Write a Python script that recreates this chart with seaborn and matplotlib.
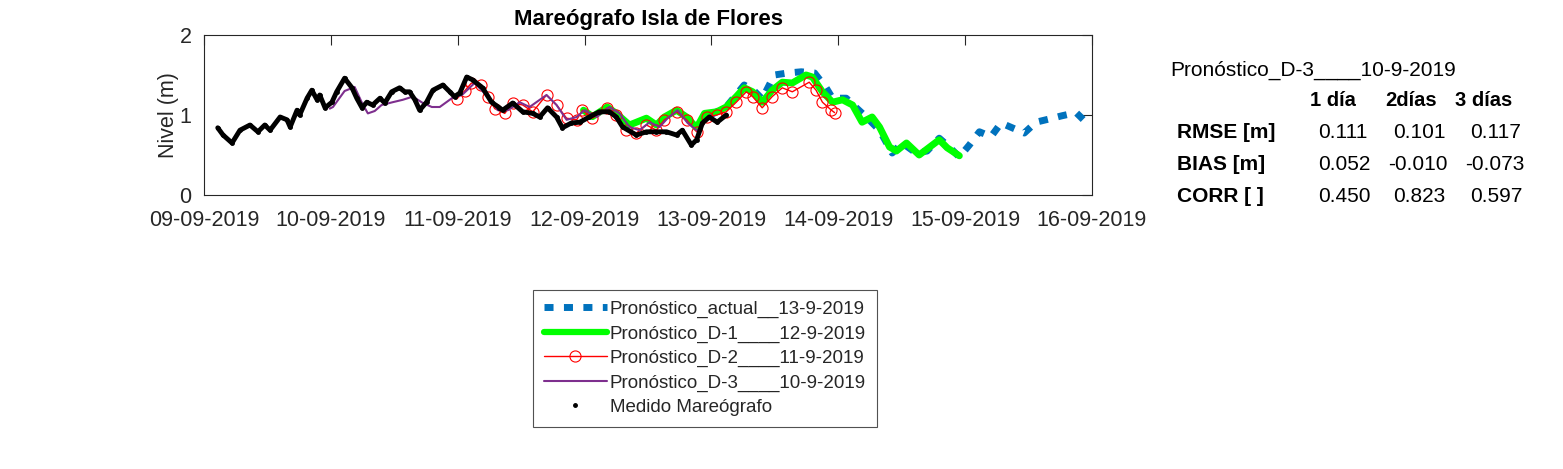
import numpy as np
import pandas as pd
import matplotlib
matplotlib.use("Agg")
import matplotlib.pyplot as plt
import matplotlib.dates as mdates
from matplotlib.lines import Line2D
import seaborn as sns

# ==========================================
# data (hours since 09-09-2019 00:00, level in m)
# ==========================================
T0 = pd.Timestamp("2019-09-09")

med_h = [2.6, 3.6, 5.3, 6.8, 8.7, 10.2, 11.5, 12.5, 14.4, 15.7, 16.3, 17.6, 18.1,
         19.5, 20.4, 21.4, 21.9, 22.9, 24.2, 25.1, 26.6, 28.0, 28.9, 29.9, 30.8,
         31.9, 33.3, 34.2, 35.5, 37.0, 38.0, 38.9, 39.9, 40.8, 42.1, 43.3, 45.2,
         46.5, 47.4, 48.4, 49.7, 50.8, 52.7, 54.4, 55.9, 56.5, 58.4, 60.3, 62.2,
         63.5, 65.0, 66.7, 67.8, 69.5, 71.1, 72.9, 74.8, 76.7, 78.0, 79.2, 81.8,
         83.7, 85.6, 87.5, 89.4, 90.5, 92.2, 93.2, 94.3, 95.6, 97.1, 98.8]
med_v = [0.84, 0.75, 0.65, 0.81, 0.875, 0.79, 0.875, 0.81, 0.975, 0.94, 0.85, 1.06, 1.0,
         1.21, 1.31, 1.19, 1.25, 1.09, 1.16, 1.29, 1.46, 1.34, 1.21, 1.09, 1.16,
         1.125, 1.21, 1.15, 1.29, 1.34, 1.29, 1.29, 1.19, 1.06, 1.16, 1.31, 1.375,
         1.29, 1.23, 1.275, 1.475, 1.44, 1.34, 1.16, 1.09, 1.06, 1.15, 1.04, 1.02,
         0.975, 1.09, 0.975, 0.84, 0.9, 0.91, 0.975, 1.04, 1.04, 0.975, 0.85, 0.75,
         0.79, 0.79, 0.79, 0.75, 0.81, 0.625, 0.69, 0.9, 0.975, 0.91, 1.0]

d3_h = [23.8, 24.4, 26.6, 28.5, 29.9, 31.0, 32.3, 33.6, 35.7, 37.6, 39.5, 41.4, 43.1,
        44.6, 46.9, 48.8, 51.2, 53.7, 55.6, 57.5, 59.7, 61.6, 64.8, 66.7, 68.6, 70.5,
        72.0, 74.3, 76.7, 78.6, 80.5, 82.4, 84.3, 86.2, 87.7, 89.6, 91.5, 93.4, 95.2, 95.8]
d3_v = [1.08, 1.1, 1.3, 1.35, 1.15, 1.02, 1.05, 1.125, 1.16, 1.19, 1.23, 1.15, 1.1,
        1.1, 1.21, 1.25, 1.4, 1.23, 1.06, 1.06, 1.16, 1.1, 1.25, 1.125, 0.94, 0.975,
        1.06, 0.975, 1.1, 1.02, 0.85, 0.81, 0.91, 0.85, 0.96, 1.06, 0.9, 0.8, 0.97, 1.0]

d2_h = [47.8, 49.3, 50.6, 52.5, 53.7, 55.0, 56.9, 58.4, 60.3, 62.2, 64.8, 66.7, 68.6,
        70.5, 71.6, 73.5, 76.3, 78.0, 79.9, 81.8, 83.7, 85.6, 87.1, 89.4, 91.3, 93.2,
        95.1, 97.0, 98.8, 100.7, 102.6, 103.8, 105.6, 107.5, 109.4, 111.3, 114.5, 115.8,
        117.0, 118.7, 119.3]
d2_v = [1.2, 1.3, 1.4, 1.375, 1.23, 1.08, 1.02, 1.15, 1.125, 1.04, 1.25, 1.125, 0.96,
        0.94, 1.06, 0.96, 1.09, 1.0, 0.81, 0.775, 0.875, 0.81, 0.94, 1.04, 0.94, 0.79,
        0.975, 1.0, 1.04, 1.16, 1.29, 1.23, 1.09, 1.23, 1.34, 1.29, 1.41, 1.31,
        1.16, 1.06, 1.03]

d1_h = [71.8, 73.5, 76.3, 78.0, 80.5, 83.7, 85.6, 87.1, 89.4, 91.3, 93.2, 94.7, 97.0,
        98.8, 100.7, 102.2, 103.8, 105.6, 107.5, 109.4, 111.3, 113.9, 115.1, 117.0,
        118.9, 120.8, 122.7, 124.5, 126.4, 127.8, 129.7, 131.0, 132.9, 135.3, 139.1,
        140.6, 142.9]
d1_v = [1.06, 0.98, 1.1, 1.02, 0.875, 0.96, 0.875, 0.975, 1.06, 0.975, 0.84, 1.02, 1.04,
        1.1, 1.23, 1.34, 1.29, 1.16, 1.31, 1.41, 1.4, 1.5, 1.475, 1.29,
        1.16, 1.19, 1.125, 0.91, 0.975, 0.85, 0.6, 0.55, 0.65, 0.5, 0.69,
        0.59, 0.49]

act_h = [95.8, 98.8, 100.4, 102.2, 104.1, 105.6, 107.9, 110.4, 113.0, 115.5, 117.7,
         118.9, 121.5, 123.4, 125.3, 127.8, 130.2, 132.1, 134.7, 136.8, 139.1, 141.0,
         142.9, 144.8, 146.7, 148.9, 150.8, 152.9, 155.2, 157.4, 159.9, 162.3, 165.0, 167.0]
act_v = [1.0, 1.1, 1.23, 1.375, 1.3, 1.2, 1.5, 1.525, 1.54, 1.525, 1.34,
         1.21, 1.21, 1.09, 0.975, 0.81, 0.525, 0.65, 0.525, 0.55, 0.71, 0.6,
         0.475, 0.625, 0.79, 0.73, 0.9, 0.84, 0.775, 0.91, 0.95, 0.99, 1.03, 0.9]

stats_rows = ["RMSE [m]", "BIAS [m]", "CORR [ ]"]
stats_cols = ["1 día", "2días", "3 días"]
stats_vals = [["0.111", "0.101", "0.117"],
              ["0.052", "-0.010", "-0.073"],
              ["0.450", "0.823", "0.597"]]

C_ACT = "#0072BD"
C_D1 = "#00FF00"
C_D2 = "#FF0000"
C_D3 = "#7E2F8E"
TXT = "#262626"


def to_df(h, v):
    return pd.DataFrame({"t": T0 + pd.to_timedelta(h, unit="h"), "nivel": v})


# ==========================================
# plot
# ==========================================
sns.set_theme(style="white")
plt.rcParams["font.family"] = ["Liberation Sans", "DejaVu Sans"]

fig = plt.figure(figsize=(15.63, 4.69), dpi=100)
ax = fig.add_axes([204 / 1563, 1 - 195 / 469, 888 / 1563, 160 / 469])

sns.lineplot(data=to_df(act_h, act_v), x="t", y="nivel", ax=ax, color=C_ACT,
             lw=5, linestyle=(0, (1.3, 1.5)), sort=False, estimator=None)
sns.lineplot(data=to_df(d1_h, d1_v), x="t", y="nivel", ax=ax, color=C_D1,
             lw=5, sort=False, estimator=None)
sns.lineplot(data=to_df(d2_h, d2_v), x="t", y="nivel", ax=ax, color=C_D2,
             lw=1, marker="o", markersize=8, markerfacecolor="none",
             markeredgecolor=C_D2, markeredgewidth=0.8, sort=False, estimator=None)
sns.lineplot(data=to_df(d3_h, d3_v), x="t", y="nivel", ax=ax, color=C_D3,
             lw=1.5, sort=False, estimator=None)
sns.lineplot(data=to_df(med_h, med_v), x="t", y="nivel", ax=ax, color="black",
             lw=3.5, marker="o", markersize=3.5, markeredgewidth=0, sort=False,
             estimator=None)

ax.set_xlim(T0, T0 + pd.Timedelta(days=7))
ax.set_ylim(0, 2)
ax.set_yticks([0, 1, 2])
ax.xaxis.set_major_locator(mdates.DayLocator())
ax.xaxis.set_major_formatter(mdates.DateFormatter("%d-%m-%Y"))
ax.tick_params(axis="both", direction="in", length=7, width=0.8, color=TXT,
               top=True, right=True, labelsize=15.5, labelcolor=TXT)
ax.tick_params(axis="x", pad=11)
ax.tick_params(axis="y", pad=9)
for s in ax.spines.values():
    s.set_color(TXT)
    s.set_linewidth(0.8)
ax.set_xlabel("")
ax.set_ylabel("Nivel (m)", fontsize=15.5, color=TXT, labelpad=0)
ax.set_title("Mareógrafo Isla de Flores", fontsize=16, fontweight="bold",
             pad=7, color="black")

# legend
handles = [
    Line2D([], [], color=C_ACT, lw=5, linestyle=(0, (1.3, 1.5))),
    Line2D([], [], color=C_D1, lw=4.5),
    Line2D([], [], color=C_D2, lw=1, marker="o", markersize=8,
           markerfacecolor="none", markeredgewidth=0.8),
    Line2D([], [], color=C_D3, lw=1.5),
    Line2D([], [], color="black", lw=0, marker="o", markersize=2.5),
]
labels = ["Pronóstico_actual__13-9-2019", "Pronóstico_D-1____12-9-2019",
          "Pronóstico_D-2____11-9-2019", "Pronóstico_D-3____10-9-2019",
          "Medido Mareógrafo"]
leg = fig.legend(handles, labels, loc="upper left",
                 bbox_to_anchor=(533 / 1563, 1 - 290 / 469), borderaxespad=0,
                 fontsize=13.5, frameon=True, fancybox=False, edgecolor=TXT,
                 handlelength=3.35, handletextpad=0.15, labelspacing=0.38,
                 borderpad=0.58)
leg.get_frame().set_linewidth(0.8)

# stats table
def fx(px):
    return px / 1563


def fy(py):
    return 1 - py / 469


fig.text(fx(1170), fy(70), "Pronóstico_D-3____10-9-2019", fontsize=15,
         va="center", ha="left", color="black")
for x, c in zip([1310, 1385, 1455], stats_cols):
    fig.text(fx(x), fy(101), c, fontsize=14.5, fontweight="bold", va="center",
             color="black")
for j, (r, vals) in enumerate(zip(stats_rows, stats_vals)):
    y = fy(132 + 32 * j)
    fig.text(fx(1177), y, r, fontsize=15, fontweight="bold", va="center",
             color="black")
    for x, v in zip([1318, 1393, 1470], vals):
        if v.startswith("-"):
            x -= 5
        fig.text(fx(x), y, v, fontsize=15, va="center", color="black")

fig.savefig("out.png", dpi=100, facecolor="white")
